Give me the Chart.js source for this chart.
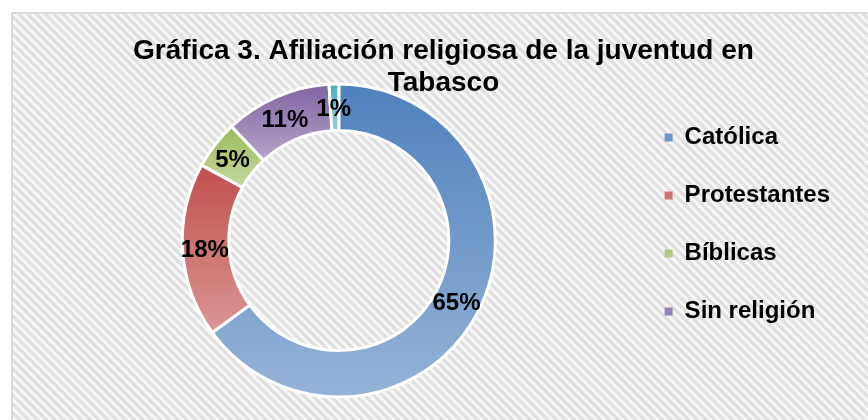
<!DOCTYPE html>
<html><head><meta charset="utf-8">
<script src="https://cdn.jsdelivr.net/npm/chart.js@4"></script>
<style>html,body{margin:0;padding:0;background:#fff;overflow:hidden}#wrap{width:868px;height:420px;position:relative}</style>
</head><body><div id="wrap"><canvas id="c" width="868" height="420"></canvas></div>
<script>
const categories = ['Católica', 'Protestantes', 'Bíblicas', 'Sin religión', 'Otras'];
const percentages = [65, 18, 5, 11, 1];
const legendCount = 4;
const titleLines = ['Gráfica 3. Afiliación religiosa de la juventud en', 'Tabasco'];

const topColors = ['#4F81BD', '#C0504D', '#9BBB59', '#8064A2', '#4BACC6'];
const bottomColors = ['#95B3D7', '#DA9694', '#C6D9A0', '#B5A5CA', '#93CDDD'];
const legendColors = ['#6F97C9', '#CF7371', '#AFC97E', '#9580B3', '#4BACC6'];

const RADIUS = 156.5, CUTOUT = 110;
const FONT = "'Liberation Sans', Arial, Helvetica, sans-serif";

function sliceFill(ctx) {
  const chart = ctx.chart, a = chart.chartArea, i = ctx.dataIndex;
  if (!a || i === undefined) return topColors[i || 0];
  const cx = (a.left + a.right) / 2, cy = (a.top + a.bottom) / 2;
  const total = percentages.reduce((s, v) => s + v, 0);
  let cum = 0; for (let k = 0; k < i; k++) cum += percentages[k];
  const a0 = -Math.PI / 2 + 2 * Math.PI * cum / total;
  const a1 = a0 + 2 * Math.PI * percentages[i] / total;
  let ymin = Infinity, ymax = -Infinity;
  for (let s = 0; s <= 64; s++) {
    const t = a0 + (a1 - a0) * s / 64;
    for (const r of [RADIUS, CUTOUT]) {
      const y = cy + r * Math.sin(t);
      ymin = Math.min(ymin, y); ymax = Math.max(ymax, y);
    }
  }
  const g = chart.ctx.createLinearGradient(0, ymin, 0, ymax);
  g.addColorStop(0, topColors[i]);
  g.addColorStop(1, bottomColors[i]);
  return g;
}

const bgPlugin = {
  id: 'bg',
  beforeDraw(chart) {
    const c = chart.ctx, W = chart.width, H = chart.height;
    c.save();
    c.fillStyle = '#ffffff'; c.fillRect(0, 0, W, H);
    const L = 13, T = 14;
    c.beginPath(); c.rect(L, T, W - L, H - T); c.clip();
    c.fillStyle = '#F7F7F7'; c.fillRect(L, T, W - L, H - T);
    c.strokeStyle = '#E0E0E0'; c.lineWidth = 3.3;
    const h = H - T + 20;
    for (let k = -H - 20; k < W + 20; k += 8.8) {
      c.beginPath(); c.moveTo(k, T - 10); c.lineTo(k + h, T - 10 + h); c.stroke();
    }
    c.restore();
    c.save();
    c.fillStyle = '#D9D9D9';
    c.fillRect(11, 12, W - 11, 2);
    c.fillRect(11, 12, 2, H - 12);
    c.restore();
  }
};

const labelPlugin = {
  id: 'pctLabels',
  afterDatasetsDraw(chart) {
    const meta = chart.getDatasetMeta(0), c = chart.ctx;
    c.save();
    c.font = 'bold 24px ' + FONT;
    c.fillStyle = '#000'; c.textAlign = 'center'; c.textBaseline = 'middle';
    meta.data.forEach((arc, i) => {
      const p = arc.tooltipPosition();
      c.fillText(percentages[i] + '%', p.x - 1, p.y + 2);
    });
    c.restore();
  }
};

Chart.defaults.font.family = FONT;
new Chart(document.getElementById('c'), {
  type: 'doughnut',
  data: {
    labels: categories,
    datasets: [{
      data: percentages,
      backgroundColor: sliceFill,
      borderColor: '#ffffff',
      borderWidth: 3,
      hoverOffset: 0
    }]
  },
  options: {
    responsive: false,
    animation: false,
    devicePixelRatio: 1,
    radius: RADIUS,
    cutout: (CUTOUT / RADIUS * 100) + '%',
    layout: { padding: { left: 47, right: 28, top: 35, bottom: 6 } },
    events: [],
    plugins: {
      title: {
        display: true, text: titleLines, color: '#000',
        font: { size: 28, weight: 'bold', lineHeight: '32px' },
        padding: { top: 0.6, bottom: -32.6 }
      },
      legend: {
        position: 'right',
        labels: {
          boxWidth: 8, boxHeight: 8, padding: 34, color: '#000',
          font: { size: 24, weight: 'bold' },
          generateLabels(chart) {
            const items = Chart.overrides.doughnut.plugins.legend.labels.generateLabels(chart);
            return items.slice(0, legendCount).map((it, i) => Object.assign(it, {
              fillStyle: legendColors[i], strokeStyle: legendColors[i], lineWidth: 0
            }));
          }
        }
      },
      tooltip: { enabled: false }
    }
  },
  plugins: [bgPlugin, labelPlugin]
});
</script></body></html>
